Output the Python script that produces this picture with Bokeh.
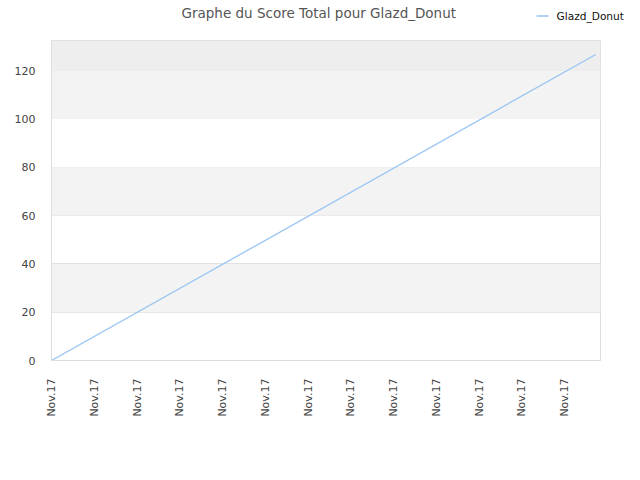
from bokeh.plotting import figure
from bokeh.models import BoxAnnotation, FixedTicker, Range1d
from bokeh.layouts import column
from bokeh.core.properties import value
from bokeh.embed import file_html
from bokeh.resources import INLINE
import math

# Data (x in day-index units, tick every unit)
x_vals = [0, 12.73]
y_vals = [0, 126.7]
x_ticks = list(range(13))
x_tick_labels = ["Nov.17"] * 13
y_ticks = [0, 20, 40, 60, 80, 100, 120]
series_name = "Glazd_Donut"
title_text = "Graphe du Score Total pour Glazd_Donut"

LINE_COLOR = "#99c5f3"

# ---- header (title + legend), coordinates in pixels ----
h = figure(width=632, height=40, output_backend="svg", toolbar_location=None,
           x_range=Range1d(0, 632), y_range=Range1d(40, 0),
           x_axis_location=None, y_axis_location=None,
           min_border=0, min_border_left=0, min_border_right=0, min_border_top=0, min_border_bottom=0)
h.frame_align = False
h.grid.visible = False
h.outline_line_color = None
h.text(x=[181], y=[12], text=[title_text], text_align="left", text_baseline="middle",
       text_font=value("DejaVu Sans"), text_font_size="13.5px", text_color="#555555")
# legend key
h.line(x=[536, 548], y=[15.5, 15.5], line_color=LINE_COLOR, line_width=1.5)
h.text(x=[556], y=[15], text=[series_name], text_align="left", text_baseline="middle",
       text_font=value("DejaVu Sans"), text_font_size="10.6px", text_color="#111111")

# ---- main chart ----
p = figure(width=624, height=424, output_backend="svg", toolbar_location=None,
           x_range=Range1d(0, 12.84), y_range=Range1d(0, 132.5),
           min_border_left=51, min_border_right=24, min_border_top=0, min_border_bottom=104)
p.frame_align = False
p.outline_line_color = "#dddddd"
p.background_fill_color = "white"
p.border_fill_color = "white"

# bands
for i in range(len(y_ticks) - 1):
    if i % 2 == 1:
        p.add_layout(BoxAnnotation(bottom=y_ticks[i], top=y_ticks[i + 1],
                                   fill_color="#f3f3f3", fill_alpha=1, line_alpha=0, level="underlay"))
p.add_layout(BoxAnnotation(bottom=y_ticks[-1], fill_color="#eeeeee", fill_alpha=1, line_alpha=0, level="underlay"))

r = p.line(x_vals, y_vals, line_color=LINE_COLOR, line_width=1.3, legend_label=series_name)
p.legend.visible = False

p.xgrid.visible = False
p.ygrid.ticker = FixedTicker(ticks=y_ticks)
p.ygrid.grid_line_color = "#e2e2e2"

p.yaxis.ticker = FixedTicker(ticks=y_ticks)
p.xaxis.ticker = FixedTicker(ticks=x_ticks)
p.xaxis.major_label_overrides = {t: l for t, l in zip(x_ticks, x_tick_labels)}
p.xaxis.major_label_orientation = math.pi / 2
for ax in (p.xaxis[0], p.yaxis[0]):
    ax.axis_line_color = "#dddddd"
    ax.major_tick_line_color = None
    ax.minor_tick_line_color = None
    ax.major_label_text_font = "DejaVu Sans"
    ax.major_label_text_font_size = "11px"
    ax.major_label_text_color = "#444444"
p.xaxis.major_label_standoff = 12
p.yaxis.major_label_standoff = 10

layout = column(h, p, spacing=0)
open("out.html", "w").write(file_html(layout, INLINE))
